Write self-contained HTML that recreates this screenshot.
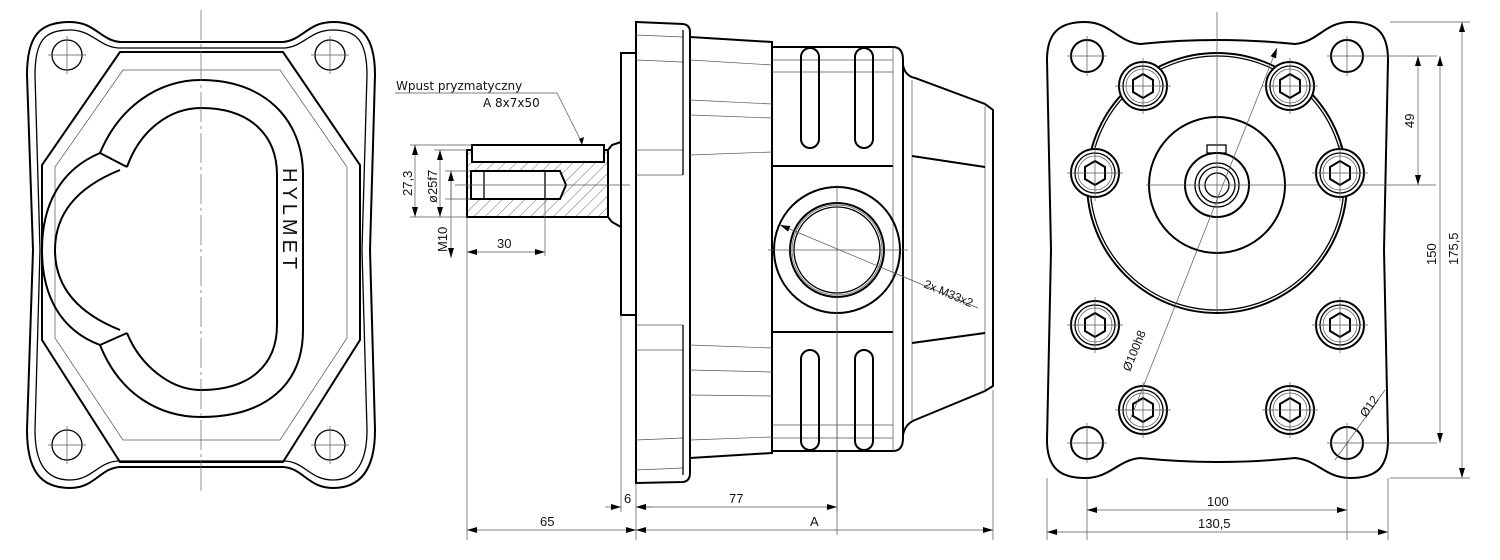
<!DOCTYPE html>
<html><head><meta charset="utf-8"><style>
html,body{margin:0;padding:0;background:#fff;width:1500px;height:560px;overflow:hidden}
svg{display:block}
text{font-family:"Liberation Sans",sans-serif;font-size:13px;fill:#111}
.k{fill:none;stroke:#000;stroke-width:2}
.m{fill:none;stroke:#000;stroke-width:1.3}
.t{fill:none;stroke:#555;stroke-width:0.7}
.c{fill:none;stroke:#666;stroke-width:0.7;stroke-dasharray:30 4 3 4}
</style></head><body>
<svg width="1500" height="560" viewBox="0 0 1500 560" xmlns="http://www.w3.org/2000/svg">
<defs>
<marker id="a" viewBox="0 0 10 6" refX="10" refY="3" markerWidth="10" markerHeight="6" orient="auto-start-reverse" markerUnits="userSpaceOnUse"><path d="M0,0L10,3L0,6z" fill="#000"/></marker>
<pattern id="h" width="8" height="8" patternUnits="userSpaceOnUse" patternTransform="rotate(45)"><line x1="0" y1="0" x2="0" y2="8" stroke="#333" stroke-width="0.7"/></pattern>
<g id="b">
<circle cx="0" cy="0" r="24" fill="#fff" stroke="#000" stroke-width="2"/><circle class="m" cx="0" cy="0" r="20"/><circle class="t" cx="0" cy="0" r="17"/>
<polygon class="k" points="0,-12 10,-6 10,6 0,12 -10,6 -10,-6"/>
<path class="t" d="M-28,0h56M0,-28v56"/>
</g>
</defs>

<!-- ============ LEFT VIEW ============ -->
<g>
<path class="k" d="M27,75 C27,35 40,22 70,22 C95,22 100,40 120,42 L283,42 C303,40 308,22 333,22 C360,22 375,35 375,75 L370,250 L375,430 C375,470 360,488 333,488 C308,488 303,468 283,467 L120,467 C100,468 95,488 70,488 C40,488 27,470 27,430 L33,250 Z"/>
<path class="m" d="M35,75 C35,40 45,30 70,30 C92,30 98,46 118,48 L285,48 C305,46 310,30 333,30 C356,30 367,40 367,75 L362,250 L367,430 C367,462 356,480 333,480 C310,480 305,462 285,461 L118,461 C98,462 92,480 70,480 C45,480 35,462 35,430 L40,250 Z"/>
<path class="k" d="M120,52 L283,52 L360,165 L360,340 L283,462 L120,462 L42,340 L42,165 Z"/>
<path class="t" d="M123,70 L280,70 L347,167 L347,338 L280,440 L123,440 L55,338 L55,167 Z"/>
<path class="k" d="M100,153 C120,105 160,80 201,80 C265,80 303,120 303,175 L303,330 C303,385 265,417 201,417 C160,417 120,395 100,345"/>
<path class="k" d="M127,167 C140,130 170,108 201,108 C250,108 277,135 277,175 L277,325 C277,365 250,390 201,390 C170,390 140,365 127,333"/>
<path class="k" d="M100,153 L127,167 M100,345 L127,333"/>
<path class="k" d="M100,153 C60,170 42,205 42,250 C42,295 60,330 100,345"/>
<path class="k" d="M120,170 C70,190 55,220 55,250 C55,280 70,310 120,330"/>
<text transform="translate(283,168) rotate(90)" style="font-size:20px;letter-spacing:4px">HYLMET</text>
<line class="c" x1="201" y1="10" x2="201" y2="495"/>
<g class="m"><circle cx="67" cy="55" r="15"/><circle cx="330" cy="55" r="15"/><circle cx="67" cy="445" r="15"/><circle cx="330" cy="445" r="15"/></g>
<g class="t"><path d="M48,55h38M67,36v38M311,55h38M330,36v38M48,445h38M67,426v38M311,445h38M330,426v38"/></g>
</g>

<!-- ============ MIDDLE VIEW ============ -->
<g>
<rect x="467" y="150" width="141" height="67" fill="url(#h)" stroke="#000" stroke-width="2"/>
<rect x="472" y="145" width="132" height="17" fill="#fff" stroke="#000" stroke-width="2"/>
<path d="M471,171 L560,171 L566,185 L560,199 L471,199 Z" fill="#fff" stroke="#000" stroke-width="2"/>
<path class="m" d="M484,171v28M545,171v28"/>
<path class="k" d="M608,150 L612,145 L621,142 M608,217 L612,222 L621,227"/>
<line class="t" x1="455" y1="185" x2="630" y2="185"/>
<rect class="k" x="621" y="53" width="15" height="262"/>
<path class="k" d="M636,22 L683,24 Q690,25 690,32 L690,473 Q690,481 683,482 L636,483 Z"/>
<path class="t" d="M636,35 L683,37 M636,60 L683,62 M636,150 L683,150 M636,175 L683,175 M636,325 L683,325 M636,350 L683,350 M636,440 L683,438 M636,470 L683,468"/>
<line class="m" x1="683" y1="30" x2="683" y2="175"/><line class="m" x1="683" y1="325" x2="683" y2="475"/>
<path class="k" d="M690,37 L772,42 L772,453 L690,458"/>
<path class="t" d="M690,60 L772,65 M690,100 L772,104 M690,115 L772,118 M690,155 L772,152 M690,345 L772,348 M690,370 L772,372 M690,395 L772,396 M690,440 L772,437"/>
<path class="k" d="M772,47 L893,47 Q903,47 903,60 L903,438 Q903,451 893,451 L772,451"/>
<path class="k" d="M772,166 L893,166 M772,332 L893,332"/>
<path class="t" d="M772,60 L893,60 M772,72 L893,72 M772,438 L893,438 M772,425 L893,425 M893,47 V451"/>
<g class="k">
<rect x="801" y="48" width="18" height="100" rx="9"/><rect x="855" y="48" width="18" height="100" rx="9"/>
<rect x="801" y="350" width="18" height="100" rx="9"/><rect x="855" y="350" width="18" height="100" rx="9"/>
</g>
<path class="k" d="M903,65 Q905,76 915,78 L985,104 L993,110 L993,386 L985,391 L915,420 Q905,424 903,435"/>
<path class="t" d="M912,80 V420 M985,106 V390"/>
<path class="k" d="M912,156 L985,167 M912,343 L985,333"/>
<circle class="k" cx="837" cy="250" r="63"/><circle class="k" cx="837" cy="250" r="47"/><circle class="m" cx="837" cy="250" r="43"/><circle class="t" cx="837" cy="250" r="45"/>
<path class="t" d="M768,250h140M837,185v350"/>
<line class="t" x1="780" y1="225" x2="978" y2="308" marker-start="url(#a)"/>
<text transform="translate(923,287) rotate(23)" style="font-size:12px">2x M33x2</text>
<text x="396" y="90" style="font-family:'DejaVu Sans',sans-serif;font-size:12px">Wpust pryzmatyczny</text>
<text x="483" y="107" style="font-family:'DejaVu Sans',sans-serif;font-size:12px">A 8x7x50</text>
<path class="t" d="M395,93 L557,93 L582,143"/>
<path d="M579,139 L582,145 L584,137 Z" fill="#000"/>
<path class="t" d="M410,145 L472,145 M410,217 L467,217 M434,150 L467,150 M445,171 L471,171 M445,199 L471,199"/>
<line class="t" x1="415" y1="145" x2="415" y2="217" marker-start="url(#a)" marker-end="url(#a)"/>
<line class="t" x1="440" y1="150" x2="440" y2="217" marker-start="url(#a)" marker-end="url(#a)"/>
<line class="t" x1="451" y1="171" x2="451" y2="258" marker-end="url(#a)"/>
<line class="t" x1="451" y1="199" x2="451" y2="171" marker-end="url(#a)"/>
<text transform="translate(412,196) rotate(-90)">27,3</text>
<text transform="translate(437,203) rotate(-90)">ø25f7</text>
<text transform="translate(447,252) rotate(-90)">M10</text>
<path class="t" d="M467,217 V540 M545,199 V256"/>
<line class="t" x1="467" y1="252" x2="545" y2="252" marker-start="url(#a)" marker-end="url(#a)"/>
<text x="497" y="248">30</text>
<path class="t" d="M621,315 V512 M636,483 V540 M837,315 V512 M993,390 V540"/>
<line class="t" x1="605" y1="507" x2="621" y2="507" marker-end="url(#a)"/>
<line class="t" x1="652" y1="507" x2="636" y2="507" marker-end="url(#a)"/>
<line class="t" x1="636" y1="507" x2="837" y2="507" marker-start="url(#a)" marker-end="url(#a)"/>
<text x="624" y="503">6</text><text x="729" y="503">77</text>
<line class="t" x1="467" y1="530" x2="636" y2="530" marker-start="url(#a)" marker-end="url(#a)"/>
<line class="t" x1="636" y1="530" x2="993" y2="530" marker-start="url(#a)" marker-end="url(#a)"/>
<text x="540" y="526">65</text><text x="810" y="526">A</text>
</g>

<!-- ============ RIGHT VIEW ============ -->
<g>
<path class="k" d="M1047,60 C1047,32 1060,22 1085,22 C1110,22 1118,42 1140,44 Q1217,36 1295,44 C1318,42 1325,22 1350,22 C1376,22 1388,32 1388,60 L1384,250 L1388,440 C1388,468 1376,478 1350,478 C1325,478 1318,460 1295,458 Q1217,466 1140,458 C1118,460 1110,478 1085,478 C1060,478 1047,468 1047,440 L1051,250 Z"/>
<g class="k"><circle cx="1087" cy="56" r="16"/><circle cx="1347" cy="56" r="16"/><circle cx="1087" cy="443" r="16"/><circle cx="1347" cy="443" r="16"/></g>
<path class="t" d="M1067,56h40M1087,36v40M1327,56h110M1347,36v40M1067,443h40M1087,423v40M1327,443h110M1347,423v40"/>
<circle class="k" cx="1217" cy="183" r="130"/><circle class="m" cx="1217" cy="183" r="127"/>
<circle class="k" cx="1217" cy="185" r="68"/>
<circle class="k" cx="1217" cy="185" r="32"/><circle class="m" cx="1217" cy="185" r="22"/><circle class="m" cx="1217" cy="185" r="18"/><circle class="m" cx="1217" cy="185" r="12"/>
<rect class="m" x="1207" y="145" width="19" height="8"/>
<path class="t" d="M1217,12v300M1146,185h290"/>
<use href="#b" x="1143" y="86"/><use href="#b" x="1290" y="86"/>
<use href="#b" x="1095" y="173"/><use href="#b" x="1340" y="173"/>
<use href="#b" x="1095" y="325"/><use href="#b" x="1340" y="325"/>
<use href="#b" x="1143" y="410"/><use href="#b" x="1290" y="410"/>
<line class="t" x1="1277" y1="48" x2="1130" y2="420" marker-start="url(#a)"/>
<text transform="translate(1130,372) rotate(-68)" style="font-size:12px">Ø100h8</text>
<line class="t" x1="1335" y1="460" x2="1385" y2="390"/>
<text transform="translate(1366,418) rotate(-55)" style="font-size:12px">Ø12</text>
<path class="t" d="M1390,22 H1470 M1390,478 H1470 M1347,443 V540 M1087,478 V540 M1047,478 V540 M1388,478 V540"/>
<line class="t" x1="1418" y1="56" x2="1418" y2="185" marker-start="url(#a)" marker-end="url(#a)"/>
<line class="t" x1="1440" y1="56" x2="1440" y2="443" marker-start="url(#a)" marker-end="url(#a)"/>
<line class="t" x1="1462" y1="22" x2="1462" y2="478" marker-start="url(#a)" marker-end="url(#a)"/>
<text transform="translate(1414,128) rotate(-90)">49</text>
<text transform="translate(1436,265) rotate(-90)">150</text>
<text transform="translate(1458,265) rotate(-90)">175,5</text>
<line class="t" x1="1087" y1="510" x2="1347" y2="510" marker-start="url(#a)" marker-end="url(#a)"/>
<line class="t" x1="1047" y1="532" x2="1388" y2="532" marker-start="url(#a)" marker-end="url(#a)"/>
<text x="1207" y="506">100</text><text x="1198" y="528">130,5</text>
</g>
</svg>
</body></html>
